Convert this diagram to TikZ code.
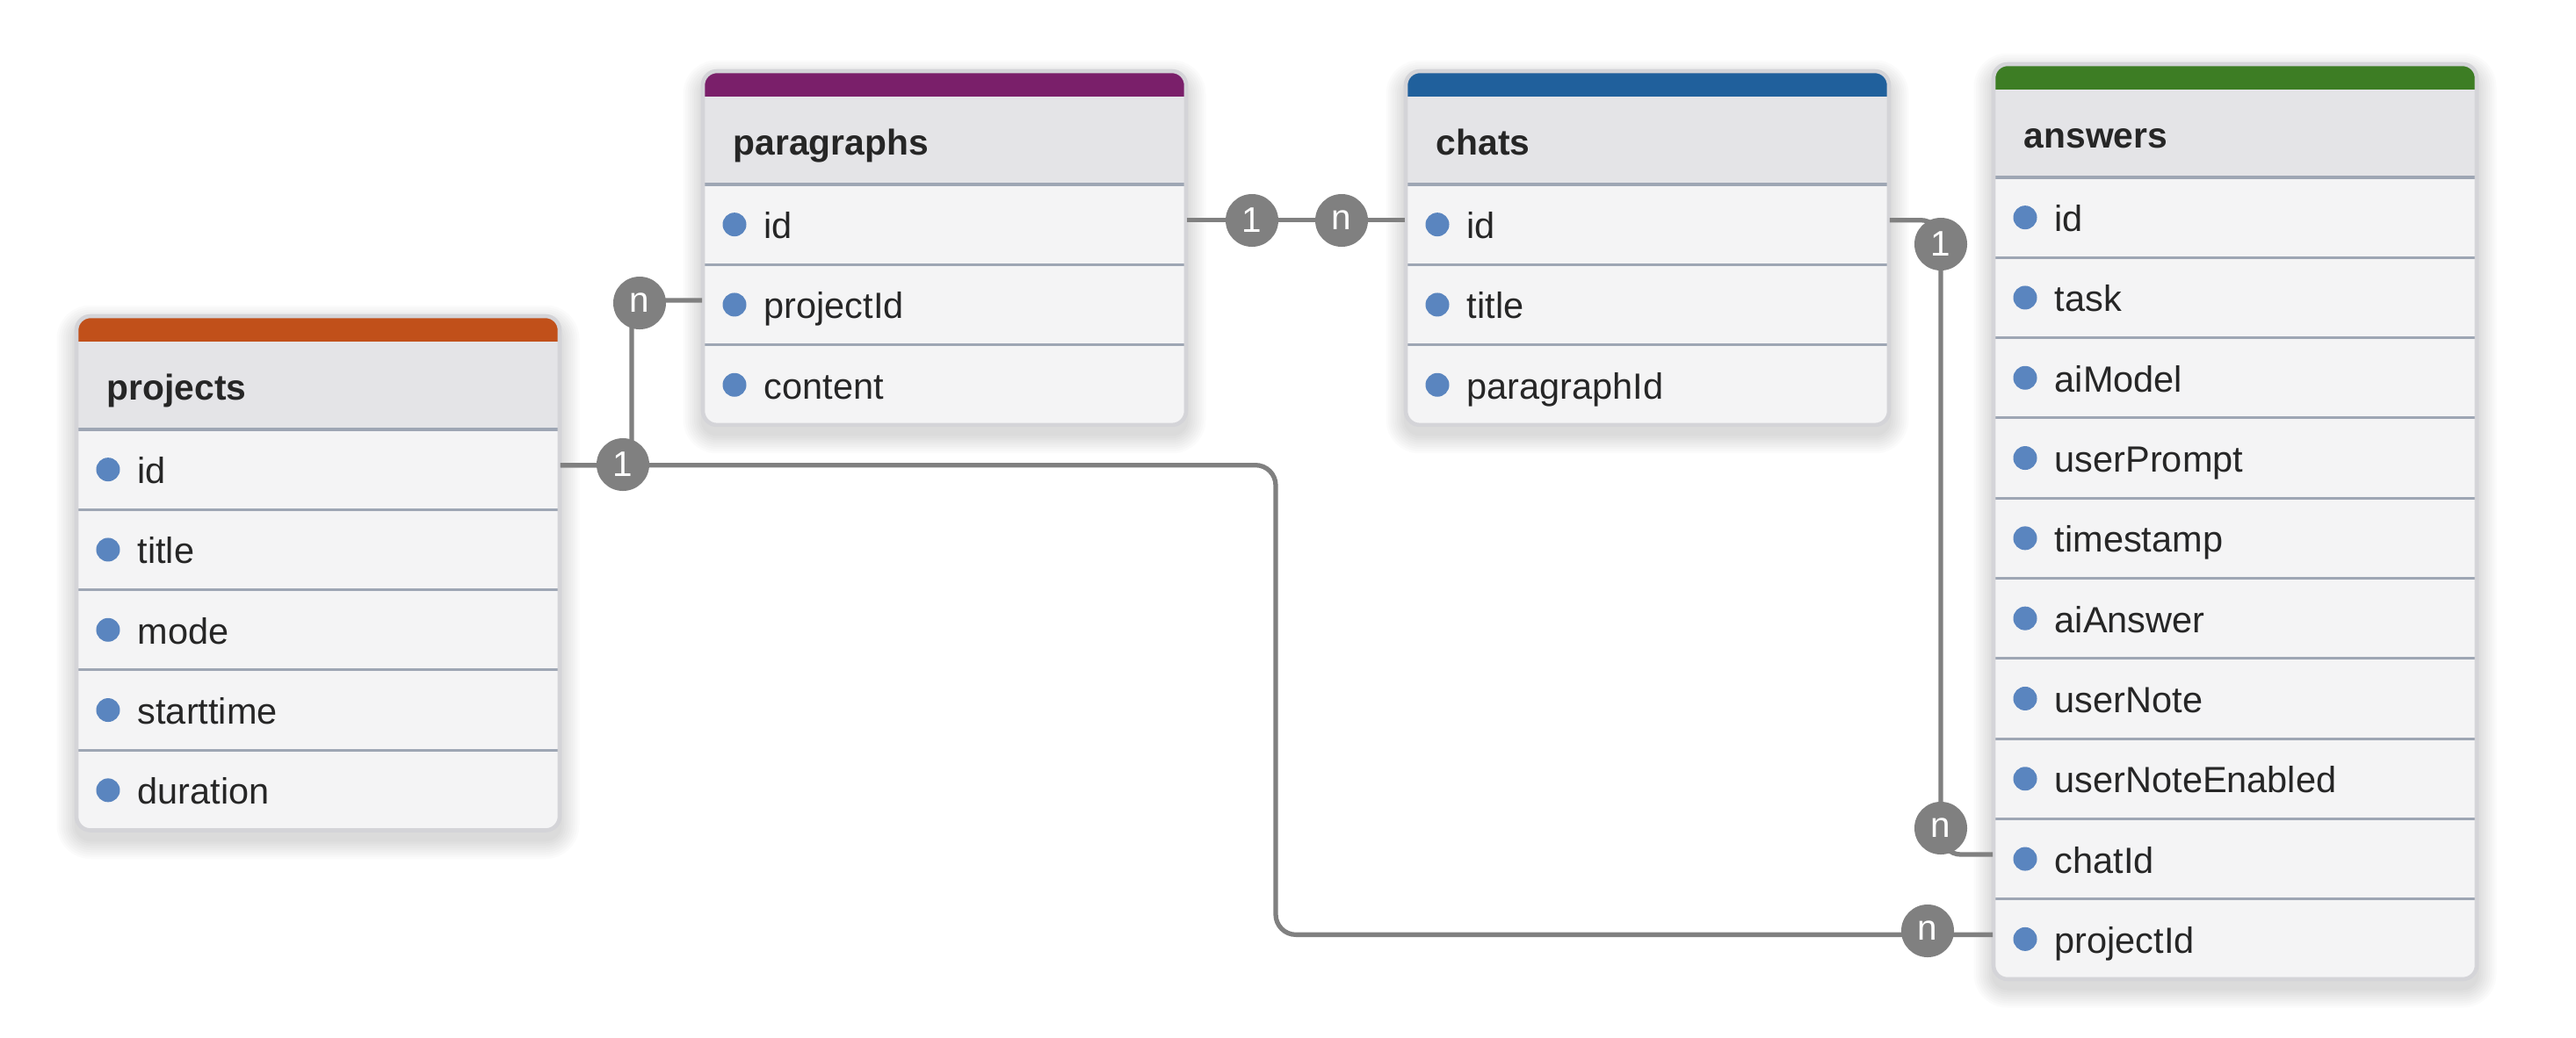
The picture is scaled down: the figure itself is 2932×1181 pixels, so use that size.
\documentclass[tikz,border=0pt]{standalone}
\usepackage{fontspec}
\setmainfont{Liberation Sans}
\definecolor{projcol}{HTML}{C1501A}
\definecolor{paracol}{HTML}{7A1F6A}
\definecolor{chatcol}{HTML}{20609C}
\definecolor{anscol}{HTML}{3D7D24}
\definecolor{headfill}{HTML}{E4E4E7}
\definecolor{rowfill}{HTML}{F4F4F5}
\definecolor{bordercol}{HTML}{D4D4D8}
\definecolor{sepcol}{HTML}{9EA6B4}
\definecolor{dotcolor}{HTML}{5A85BF}
\definecolor{txtcol}{HTML}{262626}
\definecolor{conncol}{HTML}{808080}
\tikzset{
  sepline/.style={draw=sepcol, line width=0.9pt},
  tabborder/.style={draw=bordercol, line width=1.3pt},
  titletext/.style={inner sep=0pt, text=txtcol, font=\fontsize{11.6}{14}\selectfont\bfseries},
  rowtext/.style={inner sep=0pt, text=txtcol, font=\fontsize{11.8}{14}\selectfont},
  rowbox/.style={draw=none, inner sep=0pt, minimum width=5.5cm, minimum height=0.913cm},
  conn/.style={draw=conncol, line width=1.5pt, rounded corners=0.23cm},
  card/.style={circle, fill=conncol, text=white, inner sep=0pt, minimum size=0.6cm, font=\fontsize{11.5}{12}\selectfont},
  softshadow/.style={fill=black, opacity=0.014},
}
\newcommand\erdtable[7]{%
  \pgfmathsetmacro\tabB{#3+129+91.3*#4}%
  \foreach \s in {1,...,9} {%
    \pgfmathsetmacro\rc{0.16+0.025*\s}%
    \fill[softshadow, rounded corners=\rc cm] (#2-2.5*\s,#3-2.5*\s+10) rectangle (#2+550+2.5*\s,\tabB+2.5*\s+10);
  }%
  \fill[rowfill, rounded corners=0.16cm] (#2,#3) rectangle (#2+550,\tabB);
  \begin{scope}
    \clip[rounded corners=0.16cm] (#2,#3) rectangle (#2+550,\tabB);
    \fill[#5] (#2,#3) rectangle (#2+550,#3+29);
    \fill[headfill] (#2,#3+29) rectangle (#2+550,#3+129);
  \end{scope}
  \draw[sepline] (#2,#3+129) -- (#2+550,#3+129);
  \pgfmathtruncatemacro\tabL{#4-1}%
  \foreach \k in {1,...,\tabL} {\draw[sepline] (#2,#3+129+91.3*\k) -- (#2+550,#3+129+91.3*\k);}
  \draw[tabborder, rounded corners=0.16cm] (#2,#3) rectangle (#2+550,\tabB);
  \node[titletext, anchor=base west] (#1-title) at (#2+34,#3+95) {#6};
  \foreach \r [count=\i] in {#7} {%
    \pgfmathsetmacro\yc{#3+129+91.3*(\i-0.5)}%
    \node[rowbox] (#1-\r) at (#2+275,\yc) {};
    \fill[dotcolor] (#2+36,\yc) circle[radius=0.135cm];
    \node[rowtext, anchor=base west] (#1-\r-t) at (#2+69,\yc+16) {\r};
  }%
}
\begin{document}
\begin{tikzpicture}[x=0.01cm, y=-0.01cm]
\useasboundingbox[fill=white] (0,0) rectangle (2932,1181);

\erdtable{projects}{87}{360}{5}{projcol}{projects}{id,title,mode,starttime,duration}
\erdtable{paragraphs}{800}{81}{3}{paracol}{paragraphs}{id,projectId,content}
\erdtable{chats}{1600}{81}{3}{chatcol}{chats}{id,title,paragraphId}
\erdtable{answers}{2269}{73}{10}{anscol}{answers}{id,task,aiModel,userPrompt,timestamp,aiAnswer,userNote,userNoteEnabled,chatId,projectId}

\coordinate (bendA) at (1452,800);
\coordinate (bendB) at (719,430);
\coordinate (bendC) at (2209,600);

% projects.id -> answers.projectId
\draw[conn] ([yshift=0.05cm]projects-id.east) -| (bendA) |- ([yshift=0.05cm]answers-projectId.west);
% paragraphs.projectId -> projects.id
\draw[conn] ([yshift=0.05cm]paragraphs-projectId.west) -| (bendB) |- ([yshift=0.05cm]projects-id.east);
% paragraphs.id -> chats.id
\draw[conn] ([yshift=0.05cm]paragraphs-id.east) -- ([yshift=0.05cm]chats-id.west);
% chats.id -> answers.chatId
\draw[conn] ([yshift=0.05cm]chats-id.east) -| (bendC) |- ([yshift=0.05cm]answers-chatId.west);

\node[card] (pp-n) at (728,345) {n};
\node[card] (pr-1) at (709,529) {1};
\node[card] (pa-n) at (2194,1060) {n};
\node[card] (pc-1) at (1425,251) {1};
\node[card] (pc-n) at (1527,251) {n};
\node[card] (ca-1) at (2209,278) {1};
\node[card] (ca-n) at (2209,943) {n};
\end{tikzpicture}
\end{document}
